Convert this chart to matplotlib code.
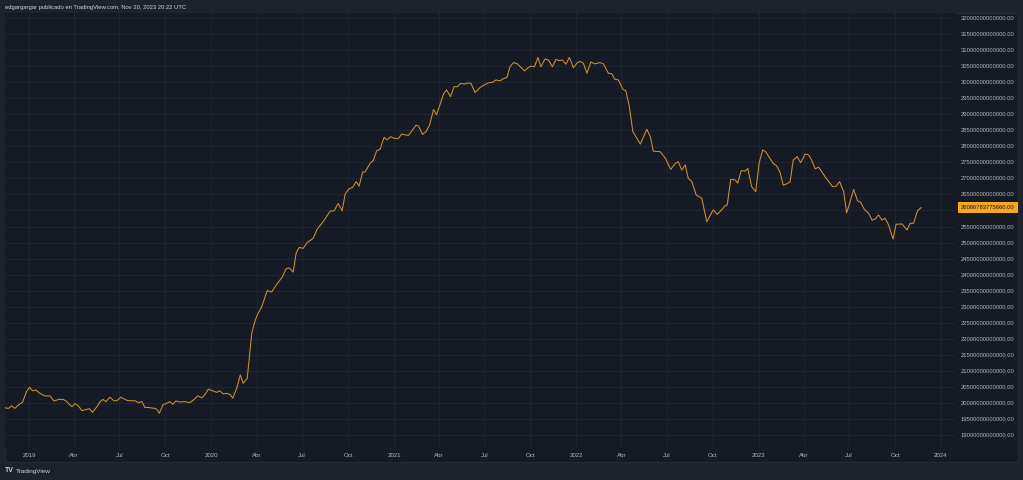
import matplotlib as mplt
mplt.use('Agg')
import matplotlib.pyplot as plt
import matplotlib.dates as dates
import matplotlib.ticker as plticker
import matplotlib.transforms as mtrans
from matplotlib.patches import Rectangle
import numpy as np

plt.rcParams['font.family'] = ['Liberation Sans', 'DejaVu Sans']

# Weekly-ish readings, days counted from 2019-01-01, values in trillions USD
start = np.datetime64('2019-01-01')
day_offsets = [
    -48, -41, -35, -28, -21, -13, -5, 1, 7, 14, 22, 32, 42, 50, 59, 69, 75, 86, 92, 99,
    106, 116, 121, 127, 136, 142, 148, 154, 162, 170, 176, 184, 192, 199, 212, 219, 226, 232, 239, 252,
    256, 261, 268, 276, 282, 288, 294, 302, 312, 322, 329, 338, 346, 352, 359, 369, 376, 382, 389, 396,
    403, 408, 416, 423, 429, 437,
    446, 451, 457, 466, 477, 486, 496, 507, 515, 521, 529, 535, 541, 549, 557, 569, 577, 589, 603, 611,
    619, 627, 633, 641, 648, 655, 661, 668, 673, 683, 689, 696, 703, 711, 717, 724, 733, 740, 746, 760,
    775, 780, 788, 795, 802, 810, 816, 830, 836, 844, 851, 858, 864, 873, 880, 885, 893, 903,
    910, 920, 929, 935, 943, 950, 957, 963, 970, 978, 992, 999, 1005, 1012, 1019, 1025, 1033, 1040, 1048, 1055,
    1061, 1068, 1075, 1082, 1090, 1097, 1103, 1110, 1117, 1125, 1133, 1143, 1150, 1160, 1167, 1173, 1180, 1189, 1195, 1202,
    1209, 1224, 1237, 1244, 1250, 1264, 1274, 1285, 1294, 1300, 1307, 1314, 1320, 1327, 1336, 1347, 1357, 1370, 1378, 1385,
    1394, 1398, 1405, 1414, 1419, 1426, 1434, 1439, 1447, 1455, 1462, 1469, 1475, 1482, 1490, 1497, 1504, 1510, 1517, 1524,
    1530, 1538, 1545, 1554, 1561, 1567, 1574, 1581, 1594, 1609, 1616, 1623, 1631, 1637, 1644, 1651, 1659, 1665, 1672, 1681,
    1688, 1694, 1701, 1708, 1714, 1721, 1730, 1736, 1748, 1758, 1764, 1771, 1779, 1786,
]
liquidity_t = [
    19.85, 19.83, 19.91, 19.83, 19.94, 20.02, 20.35, 20.49, 20.38, 20.40, 20.30, 20.22, 20.22, 20.06, 20.11, 20.11, 20.05, 19.88, 19.98, 19.91,
    19.76, 19.80, 19.82, 19.71, 19.88, 20.03, 20.11, 20.04, 20.18, 20.07, 20.07, 20.18, 20.11, 20.07, 20.07, 20.01, 20.04, 19.86, 19.86, 19.83,
    19.80, 19.68, 19.94, 19.99, 20.04, 19.96, 20.06, 20.03, 20.04, 20.01, 20.09, 20.22, 20.16, 20.25, 20.43, 20.37, 20.33, 20.38, 20.28, 20.30,
    20.26, 20.15, 20.46, 20.87, 20.61, 20.77,
    22.17, 22.48, 22.74, 23.00, 23.50, 23.46, 23.70, 23.92, 24.19, 24.21, 24.08, 24.68, 24.85, 24.82, 25.00, 25.13, 25.42, 25.65, 25.98, 25.99,
    26.22, 25.99, 26.51, 26.68, 26.72, 26.90, 26.76, 27.20, 27.20, 27.47, 27.55, 27.86, 27.91, 28.28, 28.20, 28.30, 28.24, 28.25, 28.38, 28.34,
    28.66, 28.63, 28.37, 28.46, 28.66, 29.15, 28.98, 29.63, 29.76, 29.55, 29.86, 29.86, 29.96, 29.94, 29.98, 29.96, 29.68, 29.83,
    29.90, 29.98, 30.00, 30.07, 30.04, 30.11, 30.15, 30.48, 30.61, 30.57, 30.35, 30.45, 30.50, 30.48, 30.77, 30.48, 30.72, 30.69, 30.48, 30.71,
    30.67, 30.69, 30.56, 30.77, 30.45, 30.59, 30.65, 30.59, 30.28, 30.63, 30.57, 30.61, 30.57, 30.28, 30.26, 30.09, 30.07, 29.78, 29.73, 29.24,
    28.46, 28.07, 28.53, 28.30, 27.85, 27.83, 27.63, 27.28, 27.47, 27.52, 27.26, 27.42, 27.00, 26.90, 26.48, 26.38, 25.65, 26.02, 25.88, 25.99,
    26.15, 26.17, 26.97, 26.95, 26.85, 27.24, 27.23, 27.31, 26.74, 26.59, 27.49, 27.89, 27.83, 27.66, 27.47, 27.39, 27.18, 26.79, 26.83, 26.90,
    27.57, 27.68, 27.49, 27.76, 27.73, 27.57, 27.30, 27.35, 27.05, 26.74, 26.76, 26.90, 26.59, 25.93, 26.27, 26.66, 26.30, 26.26, 26.05, 25.91,
    25.70, 25.73, 25.86, 25.70, 25.76, 25.55, 25.11, 25.57, 25.58, 25.39, 25.60, 25.60, 25.99, 26.0868,
]
last_value = 26086783775660.00
tick_dates = ['2019-01-01', '2019-04-01', '2019-07-01', '2019-10-01', '2020-01-01', '2020-04-01',
              '2020-07-01', '2020-10-01', '2021-01-01', '2021-04-01', '2021-07-01', '2021-10-01',
              '2022-01-01', '2022-04-01', '2022-07-01', '2022-10-01', '2023-01-01', '2023-04-01',
              '2023-07-01', '2023-10-01', '2024-01-01']
tick_names = ['2019', 'Abr', 'Jul', 'Oct', '2020', 'Abr', 'Jul', 'Oct', '2021', 'Abr', 'Jul', 'Oct',
              '2022', 'Abr', 'Jul', 'Oct', '2023', 'Abr', 'Jul', 'Oct', '2024']

W, H = 1023, 480
frame = '#1E222D'
pane = '#161A25'
grid = '#222631'
txt = '#B2B5BE'
orange = '#F5A623'

X = start + np.array(day_offsets).astype('timedelta64[D]')
Y = np.array(liquidity_t) * 1e12

fig = plt.figure(figsize=(W / 100, H / 100), dpi=100)
fig.patch.set_facecolor(frame)
bg = Rectangle((5 / W, 18 / H), 1013 / W, 449 / H, transform=fig.transFigure,
               facecolor=pane, edgecolor='#2A2E39', linewidth=0.6, zorder=-10)
fig.add_artist(bg)

ax = fig.add_axes([5 / W, 32 / H, 950 / W, 435 / H])
ax.set_zorder(5)
ax.set_facecolor(pane)
for s in ax.spines.values():
    s.set_visible(False)

ax.plot(X, Y, color='#CF9038', linewidth=0.75, zorder=3)

# axes limits
ax.set_xlim(dates.date2num(start) - 48, dates.date2num(start) + 1854)
ax.set_ylim(18.596e12, 32.156e12)

ax.set_xticks(dates.datestr2num(tick_dates))
ax.set_xticklabels(tick_names)
ax.yaxis.set_major_locator(plticker.MultipleLocator(0.5e12))
ax.yaxis.set_major_formatter(plticker.FuncFormatter(lambda v, p: '%.2f' % v))
ax.yaxis.tick_right()
ax.tick_params(axis='x', length=0, pad=3.5, labelsize=4.4, colors=txt)
ax.tick_params(axis='y', length=0, pad=4.3, labelsize=4.2, colors=txt)
ax.grid(color=grid, linewidth=0.6)
ax.set_axisbelow(True)

# price tag
tr = mtrans.blended_transform_factory(ax.transAxes, ax.transData)
ax.text(1.0065, last_value, '%.2f' % last_value, transform=tr, ha='left', va='center',
        fontsize=4.2, color='#131722', clip_on=False, zorder=5,
        bbox=dict(boxstyle='square,pad=0.55', facecolor=orange, edgecolor='none'))

# header / legend / footer
fig.text(5 / W, 1 - 7 / H, 'edgargargar publicado en TradingView.com, Nov 20, 2023 20:22 UTC',
         ha='left', va='center', fontsize=4.2, color='#D1D4DC')
fig.text(9 / W, 1 - 21 / H, 'Global Net Liquidity', ha='left', va='center', fontsize=4.4, color=txt)
fig.text(65 / W, 1 - 21 / H, '%.2f' % last_value, ha='left', va='center', fontsize=4.4, color=orange)
fig.text(5 / W, 1 - 471 / H, 'TV', ha='left', va='center', fontsize=5, color='#D1D4DC', fontweight='bold')
fig.text(16 / W, 1 - 471 / H, 'TradingView', ha='left', va='center', fontsize=4.6, color='#D1D4DC')

plt.savefig('out.png', dpi=100, facecolor=frame)
